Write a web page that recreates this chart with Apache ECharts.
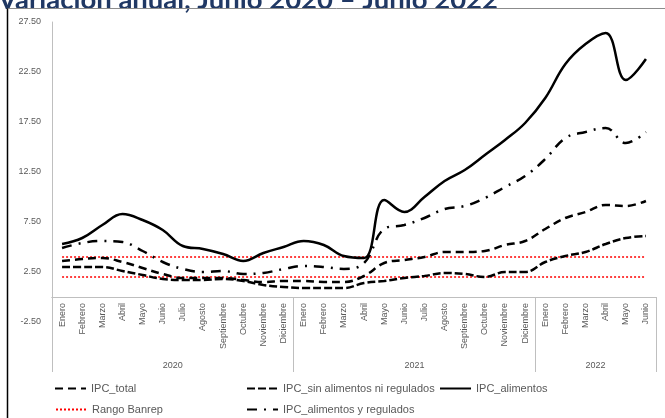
<!DOCTYPE html>
<html><head><meta charset="utf-8">
<script src="https://cdn.jsdelivr.net/npm/echarts@6/dist/echarts.min.js"></script>
<style>html,body{margin:0;padding:0;background:#fff}#c{width:665px;height:418px}</style>
</head><body><div id="c"></div>
<script>
const months = ['Enero','Febrero','Marzo','Abril','Mayo','Junio','Julio','Agosto','Septiembre','Octubre','Noviembre','Diciembre',
  'Enero','Febrero','Marzo','Abril','Mayo','Junio','Julio','Agosto','Septiembre','Octubre','Noviembre','Diciembre',
  'Enero','Febrero','Marzo','Abril','Mayo','Junio'];
const yearLabels = ['2020','2021','2022'];
const monthsPerYear = [12, 12, 6];

const ipcTotal      = [3.6,3.8,3.9,3.5,2.9,2.3,1.9,1.9,1.9,1.7,1.5,1.6, 1.6,1.5,1.5,2.1,3.4,3.7,4.0,4.5,4.5,4.6,5.2,5.6, 6.8,7.9,8.5,9.2,9.1,9.6];
const ipcSinAlimReg = [3.0,3.0,3.0,2.6,2.2,1.8,1.7,1.7,1.8,1.6,1.2,1.0, 0.9,0.9,0.9,1.4,1.6,1.9,2.1,2.4,2.3,2.0,2.5,2.5, 3.5,4.1,4.5,5.3,5.9,6.1];
const ipcAlimentos  = [5.3,5.9,7.2,8.3,7.7,6.7,5.1,4.8,4.3,3.6,4.4,5.0, 5.6,5.2,4.1,3.9,9.7,8.5,10.0,11.6,12.7,14.2,15.7,17.4, 19.9,23.3,25.3,26.4,21.7,23.8];
const ipcAlimReg    = [4.9,5.4,5.6,5.5,4.6,3.5,2.8,2.5,2.6,2.3,2.4,2.8, 3.1,3.0,2.8,3.4,6.8,7.2,7.9,8.8,9.1,9.9,11.0,12.1, 13.8,15.9,16.5,16.9,15.4,16.5];
const rangoBanrepHigh = [4,4,4,4,4,4,4,4,4,4,4,4, 4,4,4,4,4,4,4,4,4,4,4,4, 4,4,4,4,4,4];
const rangoBanrepLow  = [2,2,2,2,2,2,2,2,2,2,2,2, 2,2,2,2,2,2,2,2,2,2,2,2, 2,2,2,2,2,2];

const yMin = -2.5, yMax = 27.5, yStep = 5;
const titleText = 'Variación anual, Junio 2020 – Junio 2022';

// year group boundaries and centres (in month units)
const yearBounds = [0];
monthsPerYear.forEach(n => yearBounds.push(yearBounds[yearBounds.length - 1] + n));
const yearMids = monthsPerYear.map((n, i) => yearBounds[i] + n / 2);

const FONT = 'Liberation Sans';
const GRAY = '#595959';
const AXIS = '#bfbfbf';

const chart = echarts.init(document.getElementById('c'), null, {renderer: 'canvas'});

function lineSeries(name, data, lineStyle, z) {
  return {name, type: 'line', data, symbol: 'none', showSymbol: false, smooth: 0.4,
    xAxisIndex: 0, yAxisIndex: 0, lineStyle, itemStyle: {color: lineStyle.color}, z: z || 3,
    emphasis: {disabled: true}, animation: false};
}

const legendBase = {orient: 'horizontal', itemWidth: 31, itemHeight: 12, padding: 0,
  itemStyle: {opacity: 0},
  textStyle: {color: GRAY, fontSize: 11, fontFamily: FONT}, selectedMode: false};

chart.setOption({
  animation: false,
  title: {text: titleText, left: -2, top: -14, padding: 0,
    textStyle: {fontSize: 27.5, fontWeight: 'bold', color: '#203864', fontFamily: 'Lato'}},
  graphic: [
    {type: 'line', shape: {x1: 7.5, y1: 8.5, x2: 700, y2: 8.5}, style: {stroke: '#8c8c8c', lineWidth: 1}, silent: true, z: 10},
    {type: 'line', shape: {x1: 7.5, y1: 8.5, x2: 7.5, y2: 430}, style: {stroke: '#000', lineWidth: 1.5}, silent: true, z: 10}
  ],
  grid: {left: 52, right: 9, top: 22, bottom: 96, containLabel: false, outerBoundsMode: 'none'},
  xAxis: [
    {type: 'category', data: months, boundaryGap: true, position: 'bottom', offset: -25,
      axisLine: {show: true, onZero: false, lineStyle: {color: AXIS, width: 1}},
      axisTick: {show: false},
      axisLabel: {interval: 0, rotate: 90, margin: 6, fontSize: 9, color: GRAY, fontFamily: FONT},
      splitLine: {show: false}},
    {type: 'value', min: yearBounds[0], max: yearBounds[yearBounds.length - 1], position: 'bottom', offset: -25,
      axisLine: {show: true, onZero: false, lineStyle: {color: AXIS, width: 1}},
      axisTick: {show: true, customValues: yearBounds, length: 75, inside: false, lineStyle: {color: AXIS, width: 1}},
      axisLabel: {show: true, customValues: yearMids, margin: 64, fontSize: 9, color: GRAY, fontFamily: FONT,
        formatter: v => { const i = yearMids.findIndex(m => Math.abs(m - v) < 1e-6); return i >= 0 ? yearLabels[i] : ''; }},
      splitLine: {show: false}}
  ],
  yAxis: {type: 'value', min: yMin, max: yMax, interval: yStep,
    axisLine: {show: true, onZero: false, lineStyle: {color: AXIS, width: 1}},
    axisTick: {show: false}, splitLine: {show: false},
    axisLabel: {margin: 11, fontSize: 9, color: GRAY, fontFamily: FONT, formatter: v => v.toFixed(2)}},
  legend: [
    Object.assign({data: ['IPC_total'], left: 54, top: 383}, legendBase),
    Object.assign({data: ['IPC_sin alimentos ni regulados'], left: 246, top: 383}, legendBase),
    Object.assign({data: ['IPC_alimentos'], left: 439, top: 383}, legendBase),
    Object.assign({data: ['Rango Banrep'], left: 55, top: 404}, legendBase),
    Object.assign({data: ['IPC_alimentos y regulados'], left: 246, top: 404}, legendBase)
  ],
  series: [
    Object.assign(lineSeries('Rango Banrep', rangoBanrepHigh, {color: '#ff0000', width: 1.5, type: [2, 2]}, 2), {smooth: false}),
    Object.assign(lineSeries('Rango Banrep', rangoBanrepLow, {color: '#ff0000', width: 1.5, type: [2, 2]}, 2), {smooth: false}),
    lineSeries('IPC_total', ipcTotal, {color: '#000', width: 2.5, type: [8, 5]}),
    lineSeries('IPC_sin alimentos ni regulados', ipcSinAlimReg, {color: '#000', width: 2.5, type: [8, 3]}),
    lineSeries('IPC_alimentos', ipcAlimentos, {color: '#000', width: 2.5, type: 'solid'}),
    lineSeries('IPC_alimentos y regulados', ipcAlimReg, {color: '#000', width: 2.5, type: [10, 7, 2, 7]})
  ]
});
</script></body></html>
